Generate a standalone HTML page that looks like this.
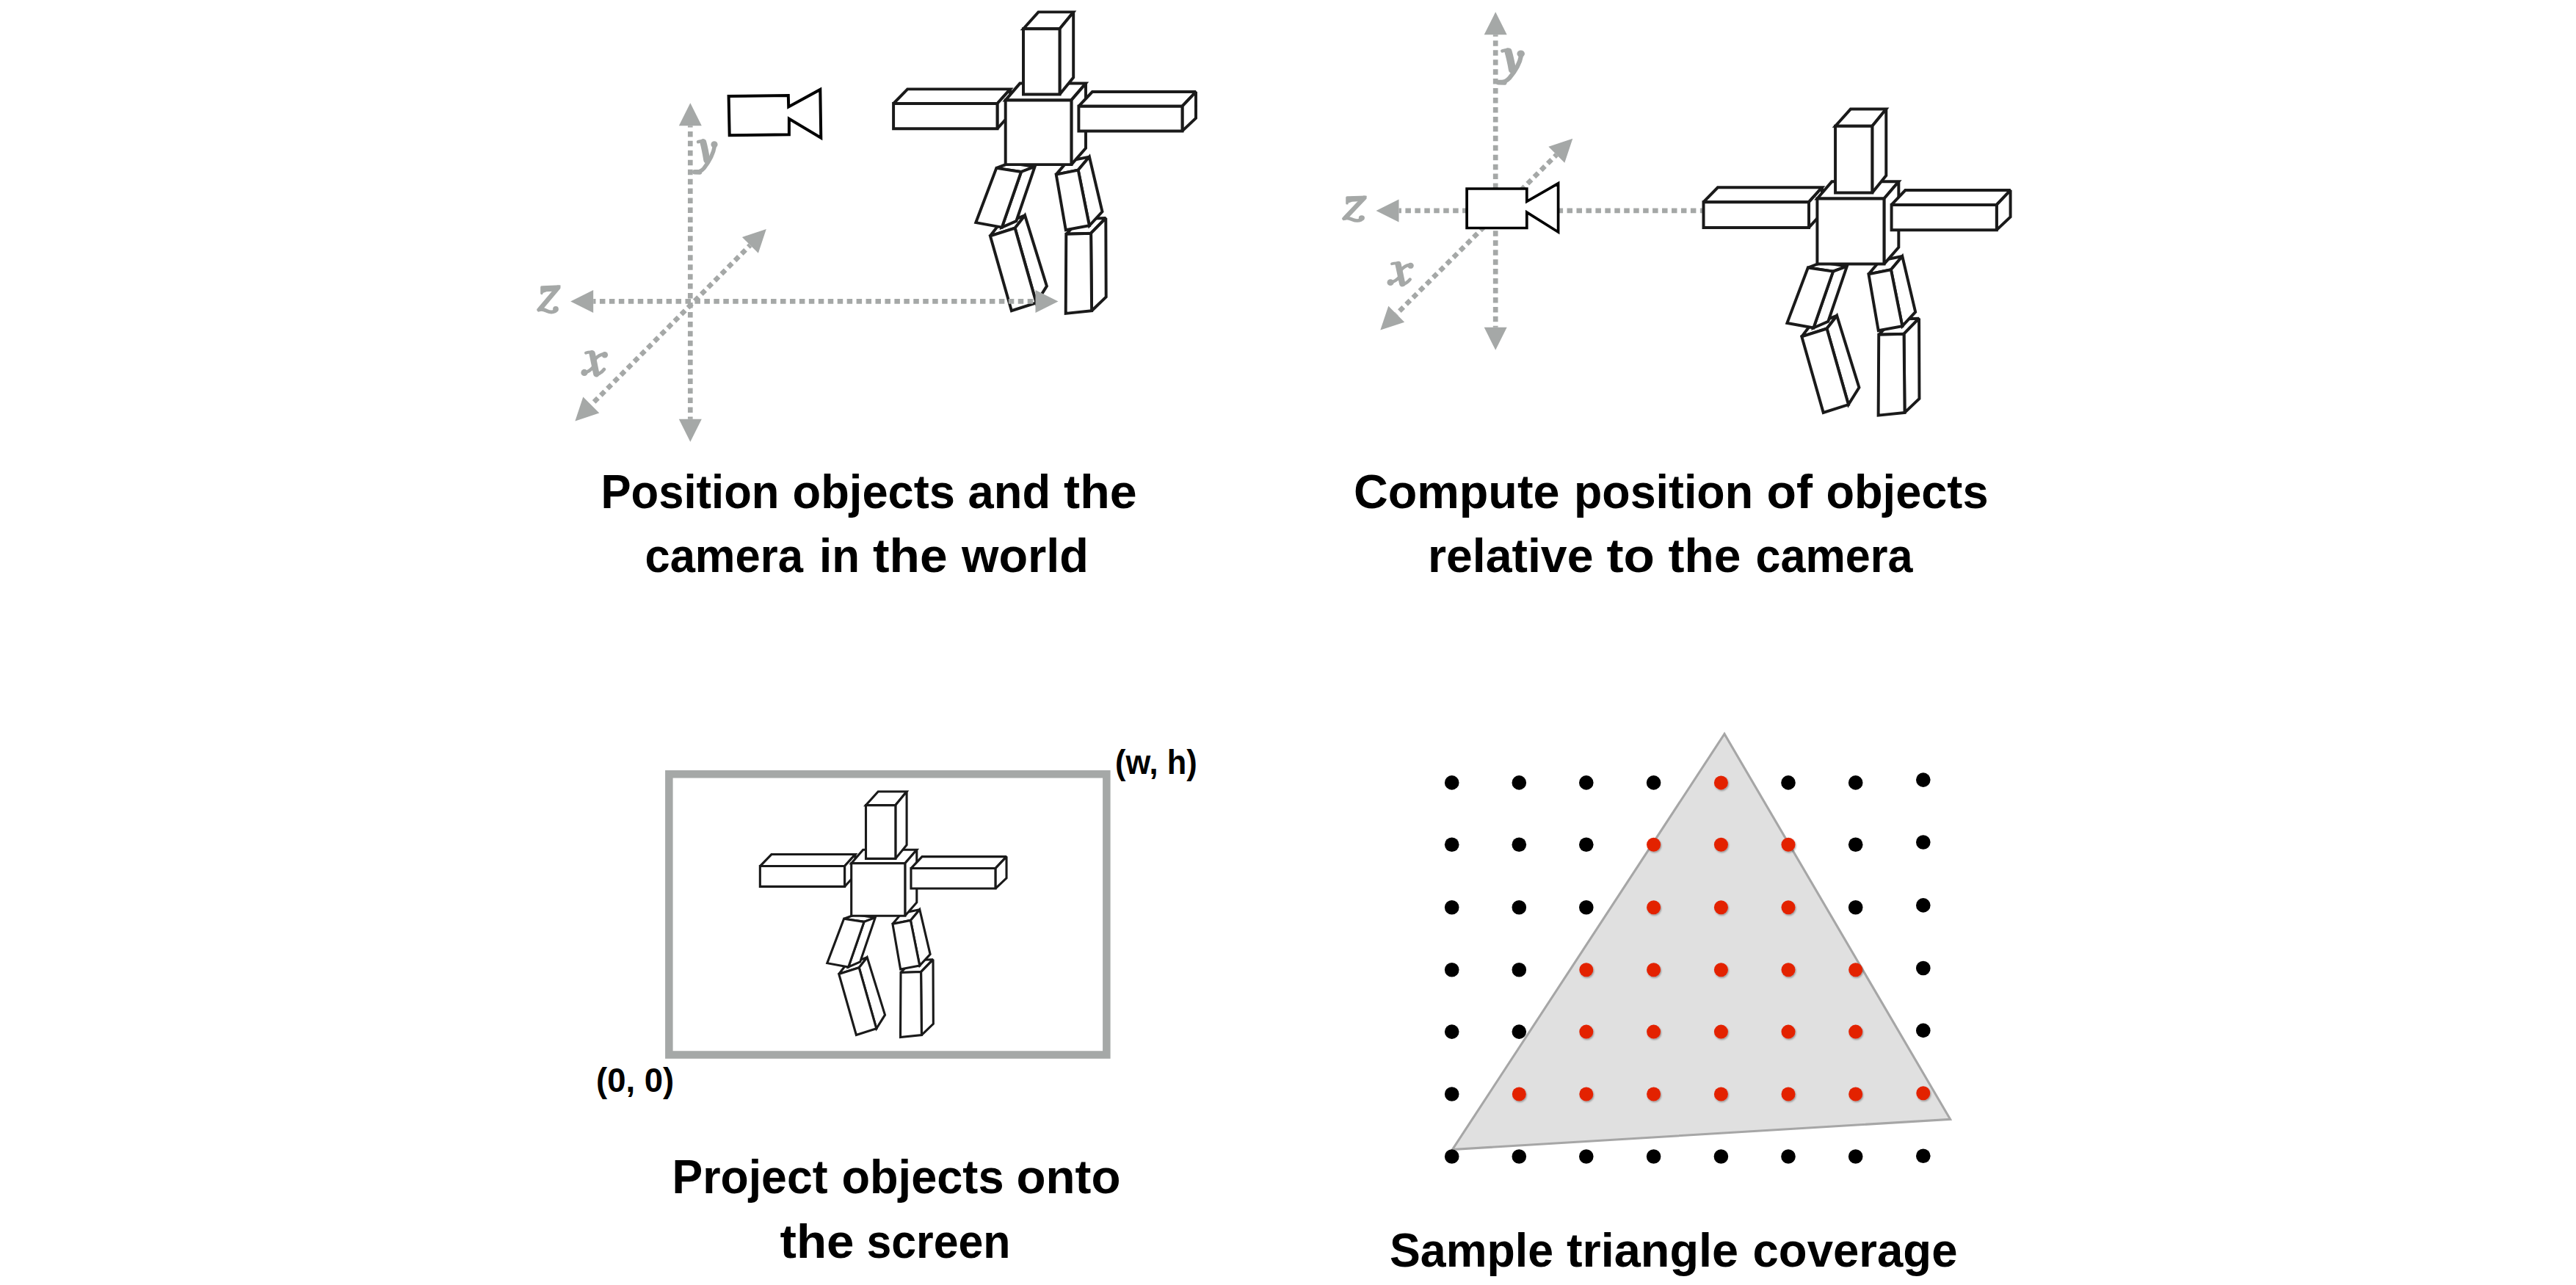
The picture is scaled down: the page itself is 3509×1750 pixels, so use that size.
<!DOCTYPE html>
<html><head><meta charset="utf-8"><style>
html,body{margin:0;padding:0;background:#fff;overflow:hidden}
svg{display:block}
</style></head><body>
<svg width="3509" height="1750" viewBox="0 0 3509 1750">
<defs>
<filter id="sh" x="-50%" y="-50%" width="200%" height="200%"><feDropShadow dx="1" dy="1.5" stdDeviation="1.2" flood-color="#000" flood-opacity="0.35"/></filter>
<g id="robotg"><g id="robot"><polygon points="-152.6,4.6 -133.5,-15.0 6.5,-15.0 -11.2,4.6"/><polygon points="-11.2,4.6 6.5,-15.0 6.5,19.2 -11.2,38.8"/><polygon points="-152.6,4.6 -11.2,4.6 -11.2,38.8 -152.6,38.8"/><polygon points="-20.8,184.9 -10.5,171.5 26.4,156.9 12.9,174.2"/><polygon points="12.9,174.2 26.4,156.9 56.2,253.2 41.9,276.1"/><polygon points="-20.8,184.9 12.9,174.2 41.9,276.1 8.2,286.8"/><polygon points="82.6,182.4 102.8,161.7 136.6,160.6 116.4,181.3"/><polygon points="116.4,181.3 136.6,160.6 137.0,268.1 117.4,286.8"/><polygon points="82.6,182.4 116.4,181.3 117.4,286.8 82.0,290.5"/><polygon points="-12.4,92.5 6.2,85.5 39.9,90.6 21.3,97.6"/><polygon points="21.3,97.6 39.9,90.6 14.7,164.6 -4.9,173.2"/><polygon points="-12.4,92.5 21.3,97.6 -4.9,173.2 -40.4,166.7"/><polygon points="69.0,101.2 84.3,83.2 114.2,77.2 99.0,95.2"/><polygon points="99.0,95.2 114.2,77.2 131.8,151.9 114.2,170.9"/><polygon points="69.0,101.2 99.0,95.2 114.2,170.9 82.1,176.9"/><polygon points="0.0,0.0 19.6,-22.8 109.3,-22.8 89.7,0.0"/><polygon points="89.7,0.0 109.3,-22.8 109.3,65.3 89.7,87.7"/><polygon points="0.0,0.0 89.7,0.0 89.7,87.7 0.0,87.7"/><polygon points="24.3,-97.2 44.8,-120.0 92.5,-120.0 73.8,-97.2"/><polygon points="73.8,-97.2 92.5,-120.0 92.5,-30.9 73.8,-7.9"/><polygon points="24.3,-97.2 73.8,-97.2 73.8,-7.9 24.3,-7.9"/><polygon points="99.7,8.3 118.2,-11.3 259.3,-11.3 240.8,8.3"/><polygon points="240.8,8.3 259.3,-11.3 259.3,24.6 240.8,42.0"/><polygon points="99.7,8.3 240.8,8.3 240.8,42.0 99.7,42.0"/></g></g>
</defs>
<style>.dot{stroke:#a5a8a7;stroke-width:6.7;stroke-dasharray:7.5 5.45;fill:none}</style>
<rect width="3509" height="1750" fill="#fff"/>
<!-- TL -->
<polygon points="992.6,131.0 1073.8,130.0 1074.2,145.4 1117.3,121.9 1118.3,187.7 1074.9,161.8 1074.9,183.2 993.7,184.2" fill="#fff" stroke="#000" stroke-width="4.0" stroke-linejoin="miter"/>
<use href="#robotg" transform="translate(1369.7,136.4)" fill="#fff" stroke="#1a1a1a" stroke-width="3.95" stroke-linejoin="miter" stroke-miterlimit="2.5"/>
<line x1="940.3" y1="171.2" x2="940.3" y2="570.8" class="dot" stroke-dashoffset="5.25"/>
<polygon points="940.3,140.2 955.8,171.2 924.8,171.2" fill="#a5a8a7"/>
<polygon points="940.3,601.8 924.8,570.8 955.8,570.8" fill="#a5a8a7"/>
<line x1="808.2" y1="410.4" x2="1410.5" y2="410.4" class="dot" stroke-dashoffset="4.20"/>
<polygon points="1441.5,410.4 1410.5,425.9 1410.5,394.9" fill="#a5a8a7"/>
<polygon points="777.2,410.4 808.2,394.9 808.2,425.9" fill="#a5a8a7"/>
<line x1="805.3" y1="551.4" x2="1021.9" y2="333.9" class="dot" stroke-dashoffset="7.43"/>
<polygon points="783.4,573.4 794.3,540.5 816.3,562.4" fill="#a5a8a7"/>
<polygon points="1043.8,311.9 1032.9,344.8 1010.9,322.9" fill="#a5a8a7"/>
<!-- TR -->
<line x1="2037.2" y1="47.3" x2="2037.2" y2="445.8" class="dot" stroke-dashoffset="4.95"/>
<polygon points="2037.2,16.3 2052.7,47.3 2021.7,47.3" fill="#a5a8a7"/>
<polygon points="2037.2,476.8 2021.7,445.8 2052.7,445.8" fill="#a5a8a7"/>
<line x1="1905.5" y1="286.9" x2="2320.0" y2="286.9" class="dot" stroke-dashoffset="4.05"/>
<polygon points="1874.5,286.9 1905.5,271.4 1905.5,302.4" fill="#a5a8a7"/>
<line x1="1902.3" y1="427.7" x2="2120.3" y2="210.7" class="dot" stroke-dashoffset="7.18"/>
<polygon points="1880.3,449.6 1891.3,416.7 1913.2,438.7" fill="#a5a8a7"/>
<polygon points="2142.3,188.8 2131.3,221.7 2109.4,199.7" fill="#a5a8a7"/>
<polygon points="1998.1,257.0 2079.8,257.0 2079.8,274.4 2122.6,249.8 2122.6,316.0 2079.8,289.1 2079.8,310.5 1998.1,310.5" fill="#fff" stroke="#000" stroke-width="3.7" stroke-linejoin="miter"/>
<use href="#robotg" transform="translate(2475.4,270.5) scale(1.015,1.016)" fill="#fff" stroke="#1a1a1a" stroke-width="3.9" stroke-linejoin="miter" stroke-miterlimit="2.5"/>
<!-- BL -->
<rect x="911.35" y="1054.3" width="596" height="382.2" fill="none" stroke="#a5a8a7" stroke-width="10.5"/>
<use href="#robotg" transform="translate(1159.7,1175.8) scale(0.815)" fill="#fff" stroke="#1a1a1a" stroke-width="3.8" stroke-linejoin="miter" stroke-miterlimit="2.5"/>
<!-- BR -->
<polygon points="2349,999.5 1978.5,1565.5 2656.6,1524.3" fill="#e0e0e0" stroke="#a6a6a6" stroke-width="3.1" stroke-linejoin="miter"/>
<circle cx="1977.7" cy="1065.9" r="9.8" fill="#000"/><circle cx="2069.3" cy="1065.9" r="9.8" fill="#000"/><circle cx="2160.8" cy="1065.9" r="9.8" fill="#000"/><circle cx="2252.6" cy="1065.9" r="9.8" fill="#000"/><circle cx="2344.4" cy="1065.9" r="9.5" fill="#e32300" filter="url(#sh)"/><circle cx="2436.0" cy="1065.9" r="9.8" fill="#000"/><circle cx="2527.7" cy="1065.9" r="9.8" fill="#000"/><circle cx="2619.8" cy="1062.1" r="9.8" fill="#000"/><circle cx="1977.7" cy="1150.3" r="9.8" fill="#000"/><circle cx="2069.3" cy="1150.3" r="9.8" fill="#000"/><circle cx="2160.8" cy="1150.3" r="9.8" fill="#000"/><circle cx="2252.6" cy="1150.3" r="9.5" fill="#e32300" filter="url(#sh)"/><circle cx="2344.4" cy="1150.3" r="9.5" fill="#e32300" filter="url(#sh)"/><circle cx="2436.0" cy="1150.3" r="9.5" fill="#e32300" filter="url(#sh)"/><circle cx="2527.7" cy="1150.3" r="9.8" fill="#000"/><circle cx="2619.8" cy="1147.0" r="9.8" fill="#000"/><circle cx="1977.7" cy="1235.7" r="9.8" fill="#000"/><circle cx="2069.3" cy="1235.7" r="9.8" fill="#000"/><circle cx="2160.8" cy="1235.7" r="9.8" fill="#000"/><circle cx="2252.6" cy="1235.7" r="9.5" fill="#e32300" filter="url(#sh)"/><circle cx="2344.4" cy="1235.7" r="9.5" fill="#e32300" filter="url(#sh)"/><circle cx="2436.0" cy="1235.7" r="9.5" fill="#e32300" filter="url(#sh)"/><circle cx="2527.7" cy="1235.7" r="9.8" fill="#000"/><circle cx="2619.8" cy="1232.9" r="9.8" fill="#000"/><circle cx="1977.7" cy="1320.7" r="9.8" fill="#000"/><circle cx="2069.3" cy="1320.7" r="9.8" fill="#000"/><circle cx="2160.8" cy="1320.7" r="9.5" fill="#e32300" filter="url(#sh)"/><circle cx="2252.6" cy="1320.7" r="9.5" fill="#e32300" filter="url(#sh)"/><circle cx="2344.4" cy="1320.7" r="9.5" fill="#e32300" filter="url(#sh)"/><circle cx="2436.0" cy="1320.7" r="9.5" fill="#e32300" filter="url(#sh)"/><circle cx="2527.7" cy="1320.7" r="9.5" fill="#e32300" filter="url(#sh)"/><circle cx="2619.8" cy="1318.5" r="9.8" fill="#000"/><circle cx="1977.7" cy="1405.1" r="9.8" fill="#000"/><circle cx="2069.3" cy="1405.1" r="9.8" fill="#000"/><circle cx="2160.8" cy="1405.1" r="9.5" fill="#e32300" filter="url(#sh)"/><circle cx="2252.6" cy="1405.1" r="9.5" fill="#e32300" filter="url(#sh)"/><circle cx="2344.4" cy="1405.1" r="9.5" fill="#e32300" filter="url(#sh)"/><circle cx="2436.0" cy="1405.1" r="9.5" fill="#e32300" filter="url(#sh)"/><circle cx="2527.7" cy="1405.1" r="9.5" fill="#e32300" filter="url(#sh)"/><circle cx="2619.8" cy="1403.4" r="9.8" fill="#000"/><circle cx="1977.7" cy="1490.0" r="9.8" fill="#000"/><circle cx="2069.3" cy="1490.0" r="9.5" fill="#e32300" filter="url(#sh)"/><circle cx="2160.8" cy="1490.0" r="9.5" fill="#e32300" filter="url(#sh)"/><circle cx="2252.6" cy="1490.0" r="9.5" fill="#e32300" filter="url(#sh)"/><circle cx="2344.4" cy="1490.0" r="9.5" fill="#e32300" filter="url(#sh)"/><circle cx="2436.0" cy="1490.0" r="9.5" fill="#e32300" filter="url(#sh)"/><circle cx="2527.7" cy="1490.0" r="9.5" fill="#e32300" filter="url(#sh)"/><circle cx="2619.8" cy="1488.8" r="9.5" fill="#e32300" filter="url(#sh)"/><circle cx="1977.7" cy="1575.0" r="9.8" fill="#000"/><circle cx="2069.3" cy="1575.0" r="9.8" fill="#000"/><circle cx="2160.8" cy="1575.0" r="9.8" fill="#000"/><circle cx="2252.6" cy="1575.0" r="9.8" fill="#000"/><circle cx="2344.4" cy="1575.0" r="9.8" fill="#000"/><circle cx="2436.0" cy="1575.0" r="9.8" fill="#000"/><circle cx="2527.7" cy="1575.0" r="9.8" fill="#000"/><circle cx="2619.8" cy="1574.3" r="9.8" fill="#000"/>
<g fill="#a5a8a7" stroke="#a5a8a7" fill-opacity="1" stroke-linecap="round" stroke-linejoin="round"><g fill="none"><path d="M739.3,390.6 L762.4,389.6 L757.6,395.2 L744,396 L739.8,397.6 Z" stroke-width="2.6" fill="#a5a8a7"/><path d="M737.9,391 L737.9,399.6" stroke-width="3.4"/><path d="M760.2,391.8 L735.8,420.6" stroke-width="6.4"/><path d="M733.8,422 C737.5,419.8 741,421.6 745,423.5 C749,425.3 752.5,425.6 756,423.8" stroke-width="5"/><circle fill="#a5a8a7" cx="757" cy="421" r="3.9" stroke="none"/><path d="M806.6,481.2 C808.6,490 810.3,500 812.4,509.3" stroke-width="8.4"/><path d="M798,480.6 Q802,479.2 806.5,479.6" stroke-width="4"/><path d="M810.8,489 Q816,483 822.8,482" stroke-width="4.6"/><circle fill="#a5a8a7" cx="823.8" cy="483.2" r="4.3" stroke="none"/><path d="M808.5,499.5 Q803,506 796.8,507.3" stroke-width="4.6"/><circle fill="#a5a8a7" cx="796" cy="507.4" r="4.6" stroke="none"/><path d="M813,509.8 Q818,509 822.9,503" stroke-width="4.6"/><path d="M951,193.2 Q955,191.8 959.5,192.2" stroke-width="4.4"/><path d="M957.8,193.6 C959.8,201 961.5,210 962.8,218" stroke-width="9"/><path d="M973.4,199 C972,208 966,220 959,229 C956,232.5 952,234.4 948,234.4" stroke-width="5.4"/><circle fill="#a5a8a7" cx="973" cy="196.8" r="4.6" stroke="none"/><path d="M946.3,234.2 L953,234.4" stroke-width="6.6"/></g><g fill="none"><g transform="translate(2037.00,66.20) scale(1.1368,1.0407) translate(-942.50,-190.10)"><path d="M951,193.2 Q955,191.8 959.5,192.2" stroke-width="4.4"/><path d="M957.8,193.6 C959.8,201 961.5,210 962.8,218" stroke-width="9"/><path d="M973.4,199 C972,208 966,220 959,229 C956,232.5 952,234.4 948,234.4" stroke-width="5.4"/><circle fill="#a5a8a7" cx="973" cy="196.8" r="4.6" stroke="none"/><path d="M946.3,234.2 L953,234.4" stroke-width="6.6"/></g><g transform="translate(1829.70,266.60) scale(1.0400,0.9286) translate(-732.80,-388.50)"><path d="M739.3,390.6 L762.4,389.6 L757.6,395.2 L744,396 L739.8,397.6 Z" stroke-width="2.6" fill="#a5a8a7"/><path d="M737.9,391 L737.9,399.6" stroke-width="3.4"/><path d="M760.2,391.8 L735.8,420.6" stroke-width="6.4"/><path d="M733.8,422 C737.5,419.8 741,421.6 745,423.5 C749,425.3 752.5,425.6 756,423.8" stroke-width="5"/><circle fill="#a5a8a7" cx="757" cy="421" r="3.9" stroke="none"/></g><g transform="translate(1889.30,356.20) scale(0.9892,0.9457) translate(-791.20,-477.30)"><path d="M806.6,481.2 C808.6,490 810.3,500 812.4,509.3" stroke-width="8.4"/><path d="M798,480.6 Q802,479.2 806.5,479.6" stroke-width="4"/><path d="M810.8,489 Q816,483 822.8,482" stroke-width="4.6"/><circle fill="#a5a8a7" cx="823.8" cy="483.2" r="4.3" stroke="none"/><path d="M808.5,499.5 Q803,506 796.8,507.3" stroke-width="4.6"/><circle fill="#a5a8a7" cx="796" cy="507.4" r="4.6" stroke="none"/><path d="M813,509.8 Q818,509 822.9,503" stroke-width="4.6"/></g></g></g>
<text x="940.0" y="691.9" font-family="&quot;Liberation Sans&quot;, sans-serif" font-size="64.0" font-weight="bold" font-style="normal" fill="#000" text-anchor="middle" textLength="243.0" lengthAdjust="spacingAndGlyphs">Position</text><text x="1190.3" y="691.9" font-family="&quot;Liberation Sans&quot;, sans-serif" font-size="64.0" font-weight="bold" font-style="normal" fill="#000" text-anchor="middle" textLength="221.5" lengthAdjust="spacingAndGlyphs">objects</text><text x="1374.8" y="691.9" font-family="&quot;Liberation Sans&quot;, sans-serif" font-size="64.0" font-weight="bold" font-style="normal" fill="#000" text-anchor="middle" textLength="112.5" lengthAdjust="spacingAndGlyphs">and</text><text x="1498.8" y="691.9" font-family="&quot;Liberation Sans&quot;, sans-serif" font-size="64.0" font-weight="bold" font-style="normal" fill="#000" text-anchor="middle" textLength="99.5" lengthAdjust="spacingAndGlyphs">the</text><text x="986.2" y="778.8" font-family="&quot;Liberation Sans&quot;, sans-serif" font-size="64.0" font-weight="bold" font-style="normal" fill="#000" text-anchor="middle" textLength="215.5" lengthAdjust="spacingAndGlyphs">camera</text><text x="1143.5" y="778.8" font-family="&quot;Liberation Sans&quot;, sans-serif" font-size="64.0" font-weight="bold" font-style="normal" fill="#000" text-anchor="middle" textLength="55.0" lengthAdjust="spacingAndGlyphs">in</text><text x="1239.8" y="778.8" font-family="&quot;Liberation Sans&quot;, sans-serif" font-size="64.0" font-weight="bold" font-style="normal" fill="#000" text-anchor="middle" textLength="101.5" lengthAdjust="spacingAndGlyphs">the</text><text x="1396.5" y="778.8" font-family="&quot;Liberation Sans&quot;, sans-serif" font-size="64.0" font-weight="bold" font-style="normal" fill="#000" text-anchor="middle" textLength="173.0" lengthAdjust="spacingAndGlyphs">world</text><text x="1984.2" y="691.7" font-family="&quot;Liberation Sans&quot;, sans-serif" font-size="64.0" font-weight="bold" font-style="normal" fill="#000" text-anchor="middle" textLength="280.5" lengthAdjust="spacingAndGlyphs">Compute</text><text x="2266.0" y="691.7" font-family="&quot;Liberation Sans&quot;, sans-serif" font-size="64.0" font-weight="bold" font-style="normal" fill="#000" text-anchor="middle" textLength="244.0" lengthAdjust="spacingAndGlyphs">position</text><text x="2437.8" y="691.7" font-family="&quot;Liberation Sans&quot;, sans-serif" font-size="64.0" font-weight="bold" font-style="normal" fill="#000" text-anchor="middle" textLength="62.5" lengthAdjust="spacingAndGlyphs">of</text><text x="2598.0" y="691.7" font-family="&quot;Liberation Sans&quot;, sans-serif" font-size="64.0" font-weight="bold" font-style="normal" fill="#000" text-anchor="middle" textLength="221.0" lengthAdjust="spacingAndGlyphs">objects</text><text x="2057.7" y="778.8" font-family="&quot;Liberation Sans&quot;, sans-serif" font-size="64.0" font-weight="bold" font-style="normal" fill="#000" text-anchor="middle" textLength="225.5" lengthAdjust="spacingAndGlyphs">relative</text><text x="2221.2" y="778.8" font-family="&quot;Liberation Sans&quot;, sans-serif" font-size="64.0" font-weight="bold" font-style="normal" fill="#000" text-anchor="middle" textLength="65.5" lengthAdjust="spacingAndGlyphs">to</text><text x="2322.0" y="778.8" font-family="&quot;Liberation Sans&quot;, sans-serif" font-size="64.0" font-weight="bold" font-style="normal" fill="#000" text-anchor="middle" textLength="99.0" lengthAdjust="spacingAndGlyphs">the</text><text x="2498.5" y="778.8" font-family="&quot;Liberation Sans&quot;, sans-serif" font-size="64.0" font-weight="bold" font-style="normal" fill="#000" text-anchor="middle" textLength="214.0" lengthAdjust="spacingAndGlyphs">camera</text><text x="1021.5" y="1624.8" font-family="&quot;Liberation Sans&quot;, sans-serif" font-size="64.0" font-weight="bold" font-style="normal" fill="#000" text-anchor="middle" textLength="212.0" lengthAdjust="spacingAndGlyphs">Project</text><text x="1257.0" y="1624.8" font-family="&quot;Liberation Sans&quot;, sans-serif" font-size="64.0" font-weight="bold" font-style="normal" fill="#000" text-anchor="middle" textLength="221.0" lengthAdjust="spacingAndGlyphs">objects</text><text x="1455.5" y="1624.8" font-family="&quot;Liberation Sans&quot;, sans-serif" font-size="64.0" font-weight="bold" font-style="normal" fill="#000" text-anchor="middle" textLength="142.0" lengthAdjust="spacingAndGlyphs">onto</text><text x="1113.0" y="1712.8" font-family="&quot;Liberation Sans&quot;, sans-serif" font-size="64.0" font-weight="bold" font-style="normal" fill="#000" text-anchor="middle" textLength="101.0" lengthAdjust="spacingAndGlyphs">the</text><text x="1278.5" y="1712.8" font-family="&quot;Liberation Sans&quot;, sans-serif" font-size="64.0" font-weight="bold" font-style="normal" fill="#000" text-anchor="middle" textLength="196.0" lengthAdjust="spacingAndGlyphs">screen</text><text x="2004.5" y="1724.9" font-family="&quot;Liberation Sans&quot;, sans-serif" font-size="64.0" font-weight="bold" font-style="normal" fill="#000" text-anchor="middle" textLength="223.0" lengthAdjust="spacingAndGlyphs">Sample</text><text x="2251.0" y="1724.9" font-family="&quot;Liberation Sans&quot;, sans-serif" font-size="64.0" font-weight="bold" font-style="normal" fill="#000" text-anchor="middle" textLength="234.0" lengthAdjust="spacingAndGlyphs">triangle</text><text x="2527.0" y="1724.9" font-family="&quot;Liberation Sans&quot;, sans-serif" font-size="64.0" font-weight="bold" font-style="normal" fill="#000" text-anchor="middle" textLength="279.0" lengthAdjust="spacingAndGlyphs">coverage</text><text x="1574.8" y="1053.8" font-family="&quot;Liberation Sans&quot;, sans-serif" font-size="47.0" font-weight="bold" font-style="normal" fill="#000" text-anchor="middle" textLength="111.6" lengthAdjust="spacingAndGlyphs">(w, h)</text><text x="865.1" y="1486.5" font-family="&quot;Liberation Sans&quot;, sans-serif" font-size="47.0" font-weight="bold" font-style="normal" fill="#000" text-anchor="middle" textLength="106.2" lengthAdjust="spacingAndGlyphs">(0, 0)</text>
</svg>
</body></html>
